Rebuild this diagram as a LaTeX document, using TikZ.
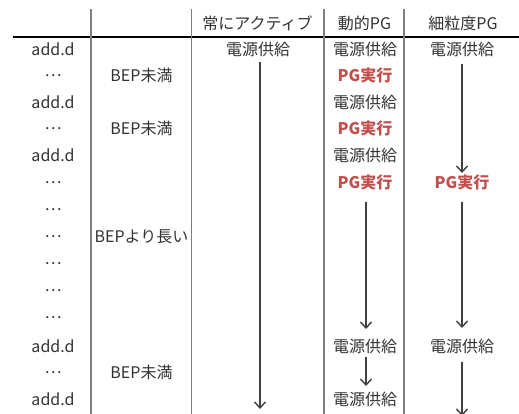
\documentclass[tikz,border=0pt]{standalone}
\usepackage{fontspec}
\setmainfont{Noto Sans CJK JP}
\usetikzlibrary{arrows.meta}
\definecolor{txt}{HTML}{333333}
\definecolor{pgred}{HTML}{C0504D}
\definecolor{vline}{HTML}{7F7F7F}
\definecolor{arrc}{HTML}{404040}
\tikzset{
  lbl/.style={inner sep=0pt, text=txt, font=\fontsize{16}{19}\selectfont},
  pg/.style={lbl, text=pgred, font=\fontsize{16}{19}\selectfont\bfseries},
  arr/.style={draw=arrc, line width=1.2pt, -{Straight Barb[length=6pt,width=11pt,line width=1.4pt]}},
  vrule/.style={draw=vline, line width=1.6pt},
  hrule/.style={draw=black, line width=2pt}
}
\begin{document}
\begin{tikzpicture}[x=1pt,y=-1pt]
\useasboundingbox[fill=white] (0,0) rectangle (519,414);
% table rules
\draw[hrule] (13,37) -- (519,37);
\foreach \x in {91,191.5,324,404} \draw[vrule] (\x,9) -- (\x,414);
% header
\node[lbl] (h1) at (257.5,23) {常にアクティブ};
\node[lbl] (h2) at (364.5,23) {動的PG};
\node[lbl] (h3) at (463,23) {細粒度PG};
% column 1
\node[lbl] (r1) at (53,49) {add.d};
\node[lbl] (r2) at (53,76) {…};
\node[lbl] (r3) at (53,102) {add.d};
\node[lbl] (r4) at (53,129) {…};
\node[lbl] (r5) at (53,155) {add.d};
\node[lbl] (r6) at (53,183) {…};
\node[lbl] (r7) at (53,210) {…};
\node[lbl] (r8) at (53,237) {…};
\node[lbl] (r9) at (53,264) {…};
\node[lbl] (r10) at (53,291) {…};
\node[lbl] (r11) at (53,318) {…};
\node[lbl] (r12) at (53,346) {add.d};
\node[lbl] (r13) at (53,373) {…};
\node[lbl] (r14) at (53,399) {add.d};
% column 2
\node[lbl] (b1) at (141.5,75) {BEP未満};
\node[lbl] (b2) at (141.5,128) {BEP未満};
\node[lbl] (b3) at (141.5,237) {BEPより長い};
\node[lbl] (b4) at (141.5,372) {BEP未満};
% column 3
\node[lbl] (c1) at (258,49) {電源供給};
\coordinate (c3end) at (260,409);
% column 4
\node[lbl] (d1) at (365,49) {電源供給};
\node[pg] (d2) at (365,75) {PG実行};
\node[lbl] (d3) at (365,102) {電源供給};
\node[pg] (d4) at (365,128) {PG実行};
\node[lbl] (d5) at (365,155) {電源供給};
\node[pg] (d6) at (365,182) {PG実行};
\node[lbl] (d7) at (365,346) {電源供給};
\node[lbl] (d8) at (365,399) {電源供給};
% column 5
\node[lbl] (f1) at (462,49) {電源供給};
\node[pg] (f2) at (462,182) {PG実行};
\node[lbl] (f3) at (462,346) {電源供給};
\coordinate (f5end) at (462,416);
% arrows
\draw[arr] ([xshift=2,yshift=-13]c1.center) -- (c3end);
\draw[arr] ([xshift=1,yshift=-20]d6.center) -- ([xshift=1,yshift=17]d7.center);
\draw[arr] ([xshift=1,yshift=-11]d7.center) -- ([xshift=1,yshift=13]d8.center);
\draw[arr] ([yshift=-15]f1.center) -- ([yshift=9]f2.center);
\draw[arr] ([yshift=-20]f2.center) -- ([yshift=18]f3.center);
\draw[arr] ([yshift=-16]f3.center) -- (f5end);
\end{tikzpicture}
\end{document}
